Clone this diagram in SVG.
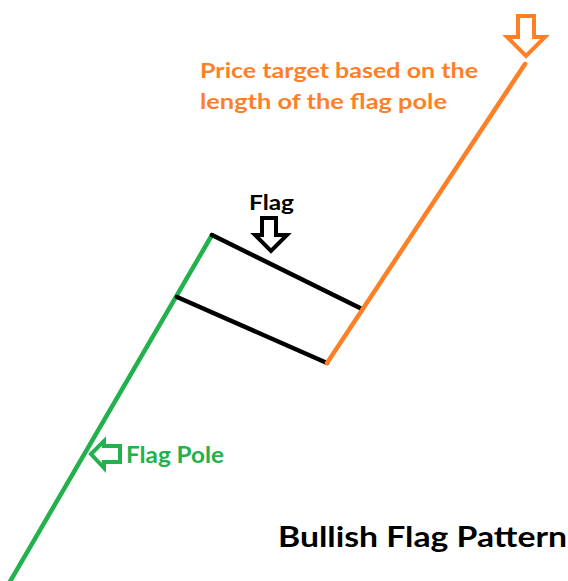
<svg xmlns="http://www.w3.org/2000/svg" width="568" height="581" viewBox="0 0 568 581">
<style>
.bg{fill:#ffffff}
.line{fill:none;stroke-width:4.5;stroke-linecap:round}
.green{stroke:#22b14c}
.black{stroke:#000000}
.orange{stroke:#ff7f27}
.arrow{fill:#ffffff;stroke-width:4;stroke-linejoin:miter}
.t{font-family:"Lato","Liberation Sans",sans-serif;font-weight:bold}
</style>
<rect class="bg" x="0" y="0" width="568" height="581"/>
<g id="connectors">
<line class="line green" x1="212" y1="235" x2="8" y2="585"/>
<line class="line black" x1="212" y1="235" x2="360" y2="308"/>
<line class="line black" x1="177" y1="297" x2="327" y2="363"/>
<line class="line orange" x1="327" y1="363" x2="525" y2="64"/>
</g>
<g id="price-target">
<polygon class="arrow orange" points="518,16 534,16 534,37 545,37 526,56 507,37 518,37"/>
<text class="t" x="200" y="78" font-size="21" fill="#ff7f27" textLength="278" lengthAdjust="spacingAndGlyphs">Price target based on the</text>
<text class="t" x="200" y="109" font-size="21" fill="#ff7f27" textLength="247" lengthAdjust="spacingAndGlyphs">length of the flag pole</text>
</g>
<g id="flag">
<text class="t" x="249" y="210" font-size="21" fill="#000000" textLength="45" lengthAdjust="spacingAndGlyphs">Flag</text>
<polygon class="arrow black" points="262,218 276,218 276,235 287,235 271,251 255,235 262,235"/>
</g>
<g id="flag-pole">
<polygon class="arrow green" points="91,454 104,441 104,446 120,446 120,462 104,462 104,468"/>
<text class="t" x="126" y="463" font-size="22" fill="#22b14c" textLength="98" lengthAdjust="spacingAndGlyphs">Flag Pole</text>
</g>
<g id="title">
<text class="t" x="278" y="547" font-size="29" fill="#000000" textLength="289" lengthAdjust="spacingAndGlyphs">Bullish Flag Pattern</text>
</g>
</svg>
